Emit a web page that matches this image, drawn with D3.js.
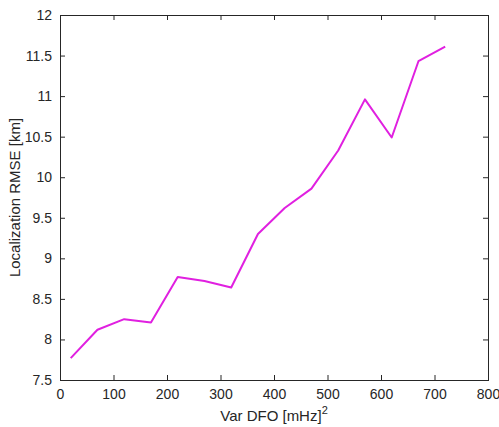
<!DOCTYPE html>
<html>
<head>
<meta charset="utf-8">
<script src="https://cdn.jsdelivr.net/npm/d3@7"></script>
<style>
  html, body { margin: 0; padding: 0; background: #fff; }
  svg { display: block; }
  text { font-family: "Liberation Sans", Arial, Helvetica, sans-serif; fill: #262626; }
</style>
</head>
<body>
<svg id="chart" width="499" height="427"></svg>
<script>
// Variance of the DFO measurement noise, (mHz)^2
const varDfo = [20, 70, 120, 170, 220, 270, 320, 370, 420, 470, 520, 570, 620, 670, 720];
// Localization RMSE, km
const rmseKm = [7.77, 8.12, 8.25, 8.21, 8.77, 8.72, 8.64, 9.30, 9.62, 9.86, 10.33, 10.96, 10.49, 11.43, 11.61];
const xTicks = [0, 100, 200, 300, 400, 500, 600, 700, 800];
const yTicks = [7.5, 8, 8.5, 9, 9.5, 10, 10.5, 11, 11.5, 12];

const svg = d3.select("#chart");
const box = { left: 60, right: 488, top: 15, bottom: 380 };
const axisColor = "#262626";
const tickLen = 5;

const x = d3.scaleLinear().domain([0, 800]).range([box.left, box.right]);
const y = d3.scaleLinear().domain([7.5, 12]).range([box.bottom, box.top]);

// Axes with inward ticks on all four sides (MATLAB box style)
function styleAxis(g) {
  g.select(".domain").remove();
  g.selectAll(".tick line").attr("stroke", axisColor).attr("stroke-width", 1);
  g.selectAll(".tick text").attr("fill", axisColor).style("font-size", "14px");
}

svg.append("g")
  .attr("transform", `translate(0,${box.bottom})`)
  .call(d3.axisBottom(x).tickValues(xTicks).tickFormat(d3.format("d"))
    .tickSizeInner(-tickLen).tickSizeOuter(0).tickPadding(9))
  .call(styleAxis);

svg.append("g")
  .attr("transform", `translate(0,${box.top})`)
  .call(d3.axisTop(x).tickValues(xTicks).tickFormat("")
    .tickSizeInner(-tickLen).tickSizeOuter(0))
  .call(styleAxis);

svg.append("g")
  .attr("transform", `translate(${box.left},0)`)
  .call(d3.axisLeft(y).tickValues(yTicks).tickFormat(d => String(d))
    .tickSizeInner(-tickLen).tickSizeOuter(0).tickPadding(8))
  .call(styleAxis);

svg.append("g")
  .attr("transform", `translate(${box.right},0)`)
  .call(d3.axisRight(y).tickValues(yTicks).tickFormat("")
    .tickSizeInner(-tickLen).tickSizeOuter(0))
  .call(styleAxis);

// Frame
svg.append("rect")
  .attr("x", box.left + 0.5).attr("y", box.top + 0.5)
  .attr("width", box.right - box.left).attr("height", box.bottom - box.top)
  .attr("fill", "none").attr("stroke", axisColor).attr("stroke-width", 1);

// Data line
const data = varDfo.map((v, i) => ({ x: v, y: rmseKm[i] }));
svg.append("path")
  .datum(data)
  .attr("fill", "none")
  .attr("stroke", "#e020e0")
  .attr("stroke-width", 2)
  .attr("stroke-linejoin", "round")
  .attr("d", d3.line().x(d => x(d.x)).y(d => y(d.y)));

// Axis labels
const xl = svg.append("text")
  .attr("x", (box.left + box.right) / 2)
  .attr("y", 421)
  .attr("text-anchor", "middle")
  .style("font-size", "15px");
xl.append("tspan").text("Var DFO [mHz]");
xl.append("tspan").attr("dy", -7).style("font-size", "11px").text("2");

svg.append("text")
  .attr("transform", `translate(20,${(box.top + box.bottom) / 2}) rotate(-90)`)
  .attr("text-anchor", "middle")
  .style("font-size", "15px")
  .text("Localization RMSE [km]");
</script>
</body>
</html>
